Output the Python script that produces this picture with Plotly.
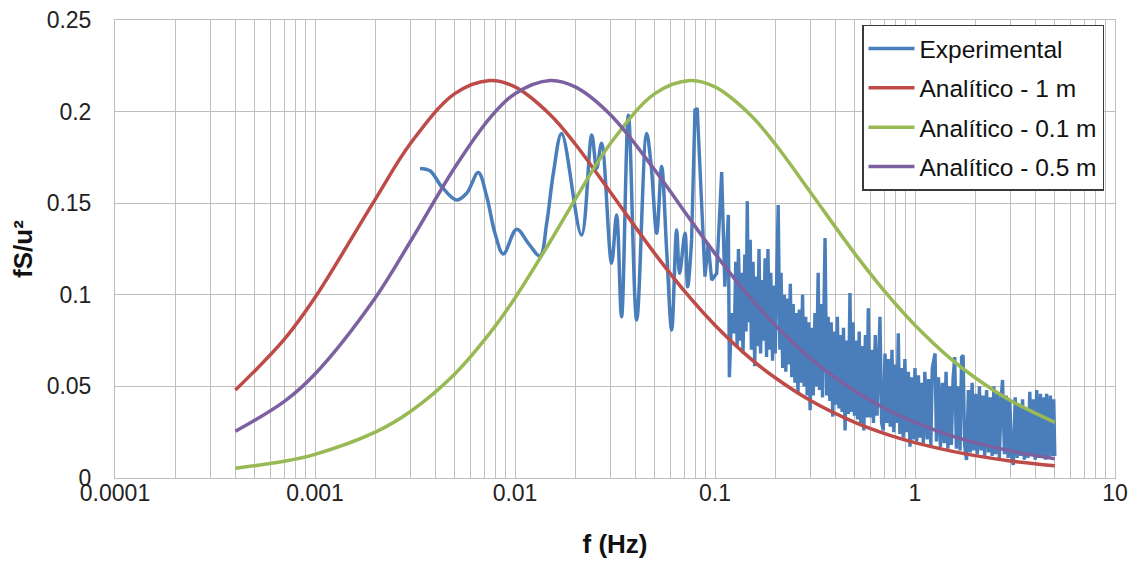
import plotly.graph_objects as go

# ---------------- data ----------------
freq_analytic = [0.0004, 0.0007, 0.001, 0.002, 0.003, 0.005, 0.0075, 0.01, 0.015, 0.02,
                 0.03, 0.05, 0.075, 0.1, 0.15, 0.2, 0.3, 0.5, 0.75, 1,
                 1.5, 2, 3, 5]
an_1m = [0.0480, 0.0755, 0.0985, 0.1521, 0.1826, 0.2098, 0.2170, 0.2135, 0.1983, 0.1823,
         0.1560, 0.1225, 0.0984, 0.0834, 0.0653, 0.0547, 0.0423, 0.0304, 0.0233, 0.0193,
         0.0148, 0.0122, 0.0093, 0.0067]
an_01m = [0.0053, 0.0091, 0.0129, 0.0250, 0.0363, 0.0568, 0.0792, 0.0983, 0.1291, 0.1521,
          0.1826, 0.2098, 0.2170, 0.2135, 0.1983, 0.1823, 0.1560, 0.1225, 0.0984, 0.0834,
          0.0653, 0.0547, 0.0423, 0.0304]
an_05m = [0.0255, 0.0417, 0.0568, 0.0983, 0.1291, 0.1695, 0.1966, 0.2098, 0.2170, 0.2135,
          0.1983, 0.1681, 0.1412, 0.1225, 0.0984, 0.0834, 0.0653, 0.0475, 0.0366, 0.0304,
          0.0233, 0.0193, 0.0148, 0.0105]

# Experimental spectrum, low-frequency (smooth) part
exp_f_smooth = [0.00335, 0.00376, 0.0043, 0.0051, 0.00573, 0.00655, 0.00722, 0.00794, 0.00874, 0.0102,
                0.01166, 0.01334, 0.0144, 0.01555, 0.0171, 0.0215, 0.0242, 0.0256, 0.0271, 0.0304,
                0.0322, 0.0341, 0.0369, 0.0406, 0.0455, 0.048, 0.0511, 0.0541, 0.0573, 0.0607,
                0.0643, 0.0665, 0.0708, 0.073, 0.0764]
exp_v_smooth = [0.169, 0.1677, 0.159, 0.1517, 0.1554, 0.1667, 0.1536, 0.1336, 0.1223, 0.1358,
                0.1281, 0.1212, 0.139, 0.1663, 0.1881, 0.1326, 0.1872, 0.169, 0.1827, 0.1172,
                0.1436, 0.088, 0.198, 0.0862, 0.1881, 0.170, 0.1336, 0.170, 0.1245, 0.0808,
                0.1354, 0.1117, 0.1336, 0.1044, 0.130]

# Experimental spectrum, high-frequency (dense) part
exp_f_dense = [0.0764, 0.0794, 0.0815, 0.084, 0.0891, 0.0925, 0.0962, 0.102, 0.108, 0.112,
               0.1166, 0.118, 0.121, 0.125, 0.127, 0.129, 0.131, 0.134, 0.136, 0.138,
               0.141, 0.143, 0.145, 0.147, 0.150, 0.152, 0.155, 0.158, 0.160, 0.163,
               0.166, 0.169, 0.172, 0.175, 0.178, 0.181, 0.184, 0.187, 0.190, 0.194,
               0.197, 0.200, 0.204, 0.207, 0.211, 0.214, 0.218, 0.222, 0.226, 0.230,
               0.234, 0.238, 0.242, 0.246, 0.251, 0.255, 0.260, 0.264, 0.269, 0.274,
               0.279, 0.284, 0.289, 0.294, 0.299, 0.305, 0.310, 0.316, 0.321, 0.328,
               0.333, 0.339, 0.345, 0.351, 0.355, 0.362, 0.368, 0.375, 0.381, 0.388,
               0.395, 0.402, 0.409, 0.417, 0.424, 0.432, 0.439, 0.447, 0.455, 0.464,
               0.473, 0.481, 0.490, 0.498, 0.507, 0.516, 0.526, 0.535, 0.545, 0.555,
               0.565, 0.575, 0.584, 0.596, 0.608, 0.620, 0.633, 0.646, 0.668, 0.681,
               0.694, 0.708, 0.722, 0.737, 0.752, 0.767, 0.783, 0.800, 0.812, 0.825,
               0.840, 0.856, 0.873, 0.890, 0.908, 0.926, 0.944, 0.963, 0.980, 1.00,
               1.02, 1.04, 1.06, 1.08, 1.10, 1.12, 1.15, 1.17, 1.20, 1.22,
               1.26, 1.28, 1.31, 1.34, 1.37, 1.40, 1.43, 1.46, 1.49, 1.52,
               1.55, 1.58, 1.61, 1.64, 1.68, 1.71, 1.74, 1.77, 1.81, 1.85,
               1.89, 1.93, 1.97, 2.01, 2.05, 2.10, 2.14, 2.19, 2.23, 2.28,
               2.33, 2.38, 2.43, 2.48, 2.53, 2.59, 2.64, 2.70, 2.74, 2.80,
               2.86, 2.92, 2.98, 3.04, 3.10, 3.17, 3.24, 3.31, 3.38, 3.45,
               3.52, 3.60, 3.67, 3.75, 3.83, 3.91, 3.99, 4.06, 4.15, 4.24,
               4.33, 4.42, 4.50, 4.55, 4.65, 4.75, 4.85, 4.94, 5.00]
exp_v_dense = [0.130, 0.2009, 0.2018, 0.170, 0.1099, 0.128, 0.108, 0.1117, 0.167, 0.1044,
               0.1436, 0.055, 0.090, 0.079, 0.118, 0.072, 0.125, 0.075, 0.112, 0.068,
               0.122, 0.080, 0.151, 0.085, 0.130, 0.070, 0.118, 0.061, 0.110, 0.072,
               0.125, 0.068, 0.108, 0.075, 0.120, 0.066, 0.125, 0.070, 0.112, 0.064,
               0.105, 0.068, 0.118, 0.149, 0.070, 0.112, 0.060, 0.100, 0.058, 0.098,
               0.062, 0.106, 0.055, 0.095, 0.052, 0.090, 0.046, 0.092, 0.052, 0.100,
               0.050, 0.088, 0.045, 0.085, 0.037, 0.082, 0.045, 0.090, 0.050, 0.112,
               0.048, 0.095, 0.044, 0.090, 0.131, 0.045, 0.088, 0.042, 0.085, 0.0335,
               0.080, 0.040, 0.088, 0.038, 0.078, 0.036, 0.082, 0.026, 0.075, 0.035,
               0.101, 0.036, 0.085, 0.034, 0.075, 0.032, 0.080, 0.030, 0.072, 0.026,
               0.078, 0.033, 0.0926, 0.033, 0.070, 0.030, 0.078, 0.034, 0.088, 0.030,
               0.026, 0.068, 0.030, 0.065, 0.028, 0.070, 0.025, 0.062, 0.030, 0.079,
               0.024, 0.060, 0.022, 0.065, 0.025, 0.058, 0.0171, 0.055, 0.021, 0.060,
               0.020, 0.056, 0.022, 0.052, 0.019, 0.058, 0.021, 0.054, 0.018, 0.060,
               0.068, 0.020, 0.055, 0.017, 0.052, 0.019, 0.058, 0.016, 0.050, 0.018,
               0.054, 0.066, 0.016, 0.050, 0.015, 0.066, 0.067, 0.018, 0.0098, 0.048,
               0.014, 0.052, 0.015, 0.046, 0.013, 0.050, 0.015, 0.045, 0.012, 0.048,
               0.014, 0.044, 0.012, 0.050, 0.013, 0.046, 0.011, 0.044, 0.0535, 0.013,
               0.045, 0.011, 0.042, 0.012, 0.0071, 0.044, 0.011, 0.040, 0.012, 0.043,
               0.010, 0.038, 0.011, 0.047, 0.012, 0.043, 0.010, 0.048, 0.011, 0.046,
               0.012, 0.044, 0.010, 0.046, 0.011, 0.045, 0.012, 0.043, 0.012]

x_tickvals = [0.0001, 0.001, 0.01, 0.1, 1, 10]
x_ticktext = ["0.0001", "0.001", "0.01", "0.1", "1", "10"]
y_tickvals = [0, 0.05, 0.1, 0.15, 0.2, 0.25]
y_ticktext = ["0", "0.05", "0.1", "0.15", "0.2", "0.25"]

series_names = ["Experimental", "Analítico - 1 m", "Analítico - 0.1 m", "Analítico - 0.5 m"]

assert len(exp_f_dense) == len(exp_v_dense)
assert len(exp_f_smooth) == len(exp_v_smooth)

# ---------------- style ----------------
FONT = "Liberation Sans, Arial, sans-serif"
C_BLUE = "#4A7EBB"
C_RED = "#BE4B48"
C_GREEN = "#98B954"
C_PURPLE = "#7D60A0"
GRID = "#BFBFBF"

fig = go.Figure()
fig.add_trace(go.Scatter(x=exp_f_smooth, y=exp_v_smooth, mode="lines", name=series_names[0],
                         legendgroup="exp", line=dict(color=C_BLUE, width=3.5, shape="spline")))
fig.add_trace(go.Scatter(x=exp_f_dense, y=exp_v_dense, mode="lines", name=series_names[0],
                         legendgroup="exp", showlegend=False,
                         line=dict(color=C_BLUE, width=3.4)))
fig.add_trace(go.Scatter(x=freq_analytic, y=an_1m, mode="lines", name=series_names[1],
                         legendgroup="r", line=dict(color=C_RED, width=3.5, shape="spline")))
fig.add_trace(go.Scatter(x=freq_analytic, y=an_01m, mode="lines", name=series_names[2],
                         legendgroup="g", line=dict(color=C_GREEN, width=3.5, shape="spline")))
fig.add_trace(go.Scatter(x=freq_analytic, y=an_05m, mode="lines", name=series_names[3],
                         legendgroup="p", line=dict(color=C_PURPLE, width=3.5, shape="spline")))

# the page body has an 8 px margin, so the figure is sized/offset to compensate
fig.update_layout(
    width=1129, height=555,
    margin=dict(l=107, r=22, t=12, b=85),
    paper_bgcolor="white", plot_bgcolor="white",
    font=dict(family=FONT, size=23, color="#222222"),
    showlegend=True,
    legend=dict(x=0.747, y=0.99, xanchor="left", yanchor="top",
                bgcolor="white", bordercolor="#3A3A3A", borderwidth=1.5,
                font=dict(family=FONT, size=24.5, color="#111111"),
                itemwidth=46,
                traceorder="grouped", tracegroupgap=4.5),
    xaxis=dict(type="log", range=[-4, 1], automargin=False,
               tickvals=x_tickvals, ticktext=x_ticktext, ticklabeloverflow="allow",
               showgrid=True, gridcolor=GRID, gridwidth=1,
               minor=dict(dtick="D1", showgrid=True, gridcolor=GRID, gridwidth=1),
               showline=True, linecolor=GRID, linewidth=1, mirror=True,
               zeroline=False, ticks="", ticklabelstandoff=-6,
               title=dict(text="<b>f (Hz)</b>", font=dict(family=FONT, size=26, color="#111111"),
                          standoff=30)),
    yaxis=dict(range=[0, 0.25], tickvals=y_tickvals, ticktext=y_ticktext, automargin=False,
               ticklabeloverflow="allow",
               showgrid=True, gridcolor=GRID, gridwidth=1,
               showline=True, linecolor=GRID, linewidth=1, mirror=True,
               zeroline=False, ticks="", ticklabelstandoff=18,
               title=dict(text="<b>fS/u²</b>", font=dict(family=FONT, size=26, color="#111111"),
                          standoff=8)),
)

fig.write_html("out.html")
